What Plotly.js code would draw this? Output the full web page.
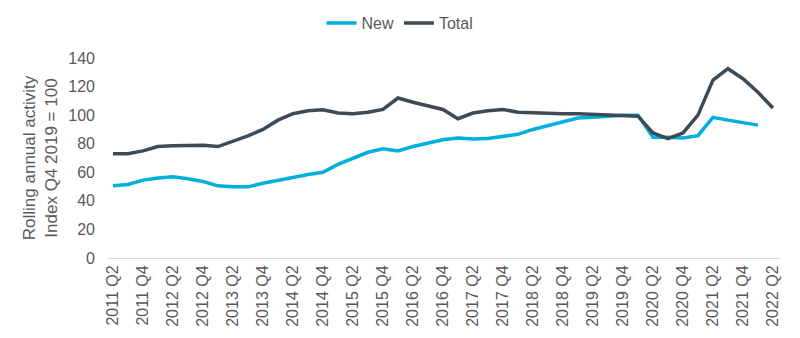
<!DOCTYPE html>
<html>
<head>
<meta charset="utf-8">
<script src="https://cdn.plot.ly/plotly-3.0.1.min.js"></script>
<style>html,body{margin:0;padding:0;background:#fff;}#chart{width:800px;height:338px;}</style>
</head>
<body>
<div id="chart"></div>
<script>
const years = [2011,2012,2013,2014,2015,2016,2017,2018,2019,2020,2021,2022];
const quarters = [];
for (const y of years) for (const q of [1,2,3,4]) quarters.push(y + ' Q' + q);
const categories = quarters.slice(quarters.indexOf('2011 Q2'), quarters.indexOf('2022 Q2') + 1);
const tickLabels = categories.filter(c => c.endsWith('Q2') || c.endsWith('Q4'));

const newValues = [50.5, 51.5, 54.5, 56, 56.8, 55.5, 53.5, 50.5, 49.8, 49.8,
  52.3, 54, 56.3, 58.5, 60, 65.5, 70, 74, 76.5, 75,
  78, 80.5, 82.8, 84, 83.3, 83.7, 85.2, 86.6, 90, 92.8,
  95.5, 98, 98.5, 99.5, 100, 100, 84.5, 84.5, 84, 85.6,
  98.5, 96.5, 95, 93, null];
const totalValues = [73, 73, 75, 78, 78.5, 78.5, 79, 78, 81.5, 85.5,
  90, 96.5, 101, 103, 103.7, 101.5, 101, 102, 104, 112,
  109, 106.5, 104, 97.5, 101.5, 103, 104, 102, 101.5, 101,
  101, 101, 100.5, 100.2, 99.7, 99.3, 87.5, 83.5, 87.5, 100,
  124.5, 132.5, 125.5, 116, 105];

const txt = '#595959';
const traces = [
  {x: categories, y: newValues, name: 'New', type: 'scatter', mode: 'lines',
   line: {color: '#00B0DC', width: 3.5}, connectgaps: false},
  {x: categories, y: totalValues, name: 'Total', type: 'scatter', mode: 'lines',
   line: {color: '#3E4A55', width: 3.5}}
];
const layout = {
  width: 800, height: 338,
  margin: {l: 108, r: 20, t: 58, b: 80, autoexpand: false},
  paper_bgcolor: '#fff', plot_bgcolor: '#fff',
  font: {family: 'Liberation Sans, Arial, sans-serif', color: txt, size: 16},
  showlegend: true,
  legend: {orientation: 'h', xref: 'container', x: 0.5, xanchor: 'center', y: 1.175, yanchor: 'middle',
           font: {size: 16, color: txt}, itemwidth: 30, tracegroupgap: 0},
  xaxis: {type: 'category', categoryorder: 'array', categoryarray: categories,
          range: [-0.33, 44.47], tickmode: 'array', tickvals: tickLabels, ticktext: tickLabels,
          tickangle: -90, showgrid: false, zeroline: false, showline: true, linecolor: '#D9D9D9',
          linewidth: 1, ticks: '', tickfont: {size: 16, color: txt}, automargin: false},
  yaxis: {range: [0, 140], tickvals: [0,20,40,60,80,100,120,140], showgrid: false, zeroline: false,
          showline: false, ticks: '', ticklabelstandoff: 12, tickfont: {size: 16, color: txt},
          title: {text: 'Rolling annual activity<br>Index Q4 2019 = 100', font: {size: 17, color: txt}, standoff: 6},
          automargin: false}
};
Plotly.newPlot('chart', traces, layout, {displayModeBar: false, staticPlot: true});
</script>
</body>
</html>
